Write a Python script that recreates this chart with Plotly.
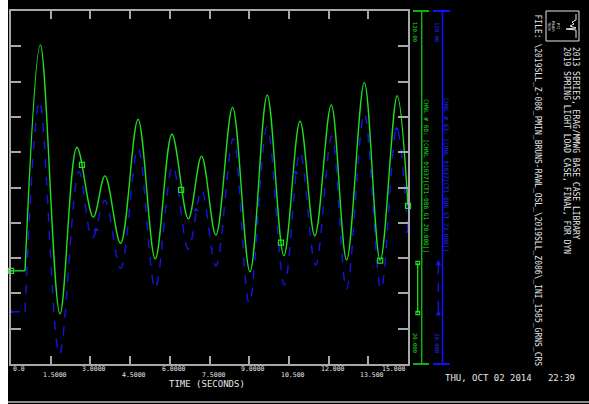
import plotly.graph_objects as go

# ---------------- data ----------------
green_t = [0, 0.53, 1.11, 1.85, 2.49, 3.11, 3.55, 4.14, 4.80, 5.45, 6.08, 6.70, 7.20, 7.74,
           8.37, 9.03, 9.68, 10.31, 10.92, 11.48, 12.10, 12.68, 13.35, 13.95, 14.59, 15.0]
green_v = [46.4, 46.4, 110.4, 34.2, 81.4, 61.6, 73.3, 54.2, 89.3, 49.8, 85.1, 61.1, 78.9, 56.5,
           92.7, 46.1, 96.2, 50.7, 88.8, 56.3, 93.4, 49.5, 99.7, 49.3, 96.0, 64.8]

blue_t = [0, 0.53, 1.08, 1.83, 2.57, 3.07, 3.55, 4.14, 4.80, 5.45, 6.11, 6.70, 7.20, 7.74,
          8.40, 9.00, 9.68, 10.33, 10.92, 11.51, 12.12, 12.68, 13.35, 13.98, 14.57, 15.0]
blue_v = [34.8, 34.8, 94.5, 22.7, 74.5, 55.6, 66.3, 47.1, 81.1, 41.4, 76.1, 52.5, 69.3, 47.8,
          83.9, 37.2, 87.2, 42.4, 80.0, 48.0, 84.6, 41.2, 91.0, 41.2, 87.0, 57.5]

green_mark_t = [0, 2.68, 6.43, 10.2, 13.95, 15.0]
green_mark_v = [46.4, 76.4, 69.3, 54.4, 49.3, 64.8]
blue_mark_t = [0, 3.21, 6.99, 10.76, 14.57, 15.0]
blue_mark_v = [34.8, 58.0, 63.6, 74.2, 86.6, 57.5]

x_ticks = [0, 1.5, 3.0, 4.5, 6.0, 7.5, 9.0, 10.5, 12.0, 13.5, 15.0]
x_tick_labels = ["0.0", "1.5000", "3.0000", "4.5000", "6.0000", "7.5000",
                 "9.0000", "10.500", "12.000", "13.500", "15.000"]
y_min, y_max = 20.0, 120.0
y_min_label, y_max_label = "20.000", "120.00"

green_name = "CHNL # 60: [CHNL 91637[CT1-086_G1 20.000]]"
blue_name = "CHNL # 63: [CHNL 91637[CT1-086_ST 23.000]]"
title1 = "2013 SERIES, ERAG/MMWG BASE CASE LIBRARY"
title2 = "2019 SPRING LIGHT LOAD CASE, FINAL, FOR DYN"
file_line = "FILE: \\2019SLL_Z-086_PMIN_BRUNS-RAWL_OSL_\\2019SLL_Z086\\_INI_1585_GRNS_CRS"
date_line = "THU, OCT 02 2014   22:39"
x_title = "TIME (SECONDS)"

# flat pre-disturbance part is drawn straight, the oscillation smoothed
FLAT_N = 2

# ---------------- layout helpers ----------------
OFFX = 8                     # page left margin (white strip)
W_FIG, H_FIG = 589 - OFFX, 404
L, R, T, B = 11, 408, 11, 364   # plot area in page pixels
PW, PH = R - L, B - T

def px(x):
    return (x - L) / PW

def py(y):
    return (B - y) / PH

GREEN = "#1ee01e"
BLUE = "#1414e6"
BLUE_T = "#2828ff"
TXT = "#e6e6e6"
AX = "#a8a8a8"
MONO = "DejaVu Sans Mono"

fig = go.Figure()

for t, v, col, dash in [(blue_t, blue_v, BLUE, "dash"), (green_t, green_v, GREEN, "solid")]:
    fig.add_trace(go.Scatter(x=t[:FLAT_N], y=v[:FLAT_N], mode="lines",
                             line=dict(color=col, width=1.4, dash=dash), hoverinfo="skip"))
    fig.add_trace(go.Scatter(x=t[FLAT_N - 1:], y=v[FLAT_N - 1:], mode="lines",
                             line=dict(color=col, width=1.4, dash=dash, shape="spline", smoothing=1.0),
                             hoverinfo="skip"))

fig.add_trace(go.Scatter(x=green_mark_t, y=green_mark_v, mode="markers",
                         marker=dict(symbol="square-open", size=5, color=GREEN, line=dict(width=1.2, color=GREEN)),
                         cliponaxis=False, hoverinfo="skip"))
fig.add_trace(go.Scatter(x=blue_mark_t, y=blue_mark_v, mode="markers",
                         marker=dict(symbol="triangle-up", size=5, color=BLUE),
                         cliponaxis=False, hoverinfo="skip"))

shapes = []
# grey line at the bottom
shapes.append(dict(type="line", xref="paper", yref="paper", x0=px(OFFX), x1=px(589), y0=py(402), y1=py(402),
                   line=dict(color="#8c8c8c", width=2)))

# channel axes on the right
for xl, xc0, xc1, col in [(421.7, 413, 429, "#10b010"), (442.5, 433, 450, "#1010ff")]:
    shapes.append(dict(type="line", xref="paper", yref="paper", x0=px(xl), x1=px(xl), y0=py(364), y1=py(11),
                       line=dict(color=col, width=1.5)))
    for yc in (11, 364):
        shapes.append(dict(type="line", xref="paper", yref="paper", x0=px(xc0), x1=px(xc1), y0=py(yc), y1=py(yc),
                           line=dict(color=col, width=2)))

# legend samples
shapes.append(dict(type="line", xref="paper", yref="paper", x0=px(417.7), x1=px(417.7), y0=py(263), y1=py(313),
                   line=dict(color=GREEN, width=1.3)))
for yy in (263, 313):
    shapes.append(dict(type="rect", xref="paper", yref="paper", x0=px(416), x1=px(419.5), y0=py(yy + 1.7),
                       y1=py(yy - 1.7), line=dict(color=GREEN, width=1.2)))
shapes.append(dict(type="line", xref="paper", yref="paper", x0=px(438.3), x1=px(438.3), y0=py(265), y1=py(312),
                   line=dict(color=BLUE, width=1.3, dash="dash")))
for yy in (263, 313):
    path = "M {} {} L {} {} L {} {} Z".format(px(436.3), py(yy + 2), px(440.3), py(yy + 2), px(438.3), py(yy - 2.5))
    shapes.append(dict(type="path", xref="paper", yref="paper", path=path, fillcolor=BLUE,
                       line=dict(color=BLUE, width=1)))

# logo box
shapes.append(dict(type="rect", xref="paper", yref="paper", x0=px(546), x1=px(579), y0=py(41), y1=py(11),
                   line=dict(color=TXT, width=1)))
logo_pts = [(576, 14), (576, 20), (572, 22), (574, 24), (570, 26), (576, 28), (566, 29), (576, 30), (576, 38)]
path = "M " + " L ".join("{} {}".format(px(a), py(b)) for a, b in logo_pts)
shapes.append(dict(type="path", xref="paper", yref="paper", path=path, line=dict(color=TXT, width=1)))

annotations = []
# x tick labels, alternating rows
for i, (v, lab) in enumerate(zip(x_ticks, x_tick_labels)):
    if i == 0:
        xa, xs = "left", 0
    elif i == len(x_ticks) - 1:
        xa, xs = "right", 0
    else:
        xa, xs = "center", 4
    annotations.append(dict(x=v, y=0, xref="x", yref="paper", text=lab, showarrow=False,
                            xanchor=xa, yanchor="top", xshift=xs, yshift=(1 if i % 2 == 0 else -5),
                            font=dict(family=MONO, size=6.5, color=TXT)))
annotations.append(dict(x=px(207), y=py(384), xref="paper", yref="paper", text=x_title, showarrow=False,
                        xanchor="center", yanchor="middle", font=dict(family=MONO, size=9, color=TXT)))

# channel axis labels
for xl, col in [(415, GREEN), (436.7, BLUE_T)]:
    annotations.append(dict(x=px(xl), y=py(32), xref="paper", yref="paper", text=y_max_label, showarrow=False,
                            textangle=90, xanchor="center", yanchor="middle",
                            font=dict(family=MONO, size=5.5, color=col)))
    annotations.append(dict(x=px(xl), y=py(343), xref="paper", yref="paper", text=y_min_label, showarrow=False,
                            textangle=90, xanchor="center", yanchor="middle",
                            font=dict(family=MONO, size=5.5, color=col)))
annotations.append(dict(x=px(426), y=py(176), xref="paper", yref="paper", text=green_name, showarrow=False,
                        textangle=90, xanchor="center", yanchor="middle",
                        font=dict(family=MONO, size=6.1, color=GREEN)))
annotations.append(dict(x=px(446), y=py(175), xref="paper", yref="paper", text=blue_name, showarrow=False,
                        textangle=90, xanchor="center", yanchor="middle",
                        font=dict(family=MONO, size=6.1, color=BLUE_T)))

# right-hand titles
annotations.append(dict(x=px(575.5), y=py(45), xref="paper", yref="paper", text=title1, showarrow=False,
                        textangle=90, xanchor="center", yanchor="top", font=dict(family=MONO, size=8, color=TXT)))
annotations.append(dict(x=px(566.5), y=py(45), xref="paper", yref="paper", text=title2, showarrow=False,
                        textangle=90, xanchor="center", yanchor="top", font=dict(family=MONO, size=8, color=TXT)))
annotations.append(dict(x=px(537.5), y=py(12), xref="paper", yref="paper", text=file_line, showarrow=False,
                        textangle=90, xanchor="center", yanchor="top", font=dict(family=MONO, size=8, color=TXT)))
annotations.append(dict(x=px(443), y=py(378), xref="paper", yref="paper", text=date_line, showarrow=False,
                        xanchor="left", yanchor="middle", font=dict(family=MONO, size=9, color=TXT)))
annotations.append(dict(x=px(553), y=py(26), xref="paper", yref="paper", text="PTI<br>POWER<br>TECH",
                        showarrow=False, textangle=90, xanchor="center", yanchor="middle",
                        font=dict(family=MONO, size=3.5, color=TXT)))

fig.update_layout(
    width=W_FIG, height=H_FIG,
    margin=dict(l=L - OFFX, r=W_FIG - (R - OFFX), t=T, b=H_FIG - B, autoexpand=False),
    paper_bgcolor="black", plot_bgcolor="black",
    showlegend=False,
    shapes=shapes, annotations=annotations,
    xaxis=dict(range=[0, 15], tickvals=x_ticks, showticklabels=False, ticks="inside", ticklen=8,
               tickcolor=AX, tickwidth=1.5, showline=True, linecolor=AX, linewidth=1.5, mirror="ticks",
               showgrid=False, zeroline=False, fixedrange=True),
    yaxis=dict(range=[y_min, y_max], dtick=10, tick0=20, showticklabels=False, ticks="inside", ticklen=10,
               tickcolor=AX, tickwidth=1.5, showline=True, linecolor=AX, linewidth=1.5, mirror="ticks",
               showgrid=False, zeroline=False, fixedrange=True),
)

fig.write_html("out.html",
               post_script="document.body.style.margin='0px 0px 0px %dpx'; document.body.style.overflow='hidden';" % OFFX)
